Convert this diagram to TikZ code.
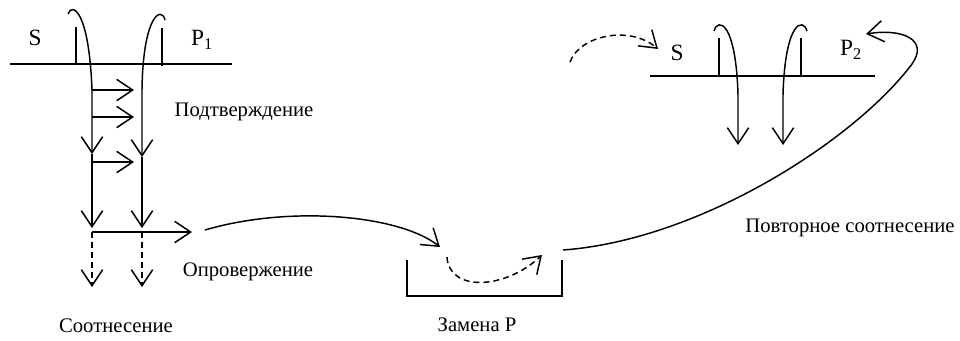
\documentclass[tikz,border=0pt]{standalone}
\usepackage{fontspec}
\setmainfont{Liberation Serif}
\usetikzlibrary{arrows.meta}

\begin{document}
\begin{tikzpicture}[x=0.75pt,y=-0.75pt,line width=1.1pt,
  >={Straight Barb[length=12pt,width=16pt]},
  lbl/.style={font=\fontsize{15.5}{19}\selectfont,inner sep=0pt},
  term/.style={font=\fontsize{17.5}{20}\selectfont,inner sep=0pt},
  dsh/.style={dash pattern=on 4.5pt off 3pt}]
  \useasboundingbox (0,0) rectangle (960,340);
  % left: S -- P1
  \draw (10,64) -- (232,64);
  \draw (76,27) -- (76,64);
  \draw (162,28) -- (162,66);
  \node[term] (s1) at (35,38) {S};
  \node[term] (p1) at (202,40) {P\textsubscript{1}};
  \coordinate (a1) at (92,154);
  \coordinate (a2) at (92,228);
  \coordinate (b1) at (142,157);
  \coordinate (b2) at (142,228);
  \draw[->] (68,14) .. controls (72,2) and (89,10) .. (92,90) -- (a1);
  \draw[->] (165,20) .. controls (162,6) and (143,14) .. (142,90) -- (b1);
  \draw[->] (a1) -- (a2);
  \draw[->] (b1) -- (b2);
  \foreach \y in {90,117,162}
    \draw[->] (92,\y) -- ++(42,0);
  \coordinate (c0) at (92,232);
  \coordinate (c1) at (192,232);
  \draw[->] (c0) -- (c1);
  \foreach \x in {92,142}
    \draw[->,dsh] (\x,232) -- (\x,287);
  \node[lbl] (podtv) at (244,112) {Подтверждение};
  \node[lbl] (oprov) at (248,272) {Опровержение};
  \node[lbl] (sootn) at (116,326) {Соотнесение};
  % middle: replacing P
  \coordinate (m0) at (205,230);
  \coordinate (m1) at (440,247);
  \draw[->] (m0) .. controls (290,205) and (400,215) .. (m1);
  \draw (407,260) |- (562,296) -- (562,260);
  \draw[->,dsh] (447,257) .. controls (449,292) and (505,290) .. (542,255);
  \node[lbl] (zam) at (477,325) {Замена Р};
  % right: S -- P2
  \draw (650,76) -- (875,76);
  \draw (719,38) -- (719,76);
  \draw (801,38) -- (801,76);
  \node[term] (s2) at (677,53) {S};
  \node[term] (p2) at (851,50) {P\textsubscript{2}};
  \draw[->] (714,31) .. controls (718,17) and (736,22) .. (738,95) -- (738,145);
  \draw[->] (807,31) .. controls (803,17) and (785,22) .. (783,95) -- (783,145);
  \draw[->,dsh] (570,62) .. controls (580,35) and (630,25) .. (658,49);
  \coordinate (r0) at (563,250);
  \coordinate (r1) at (866,34);
  \draw[->] (r0) .. controls (700,240) and (855,140) .. (912,64)
    .. controls (929,40) and (903,28) .. (r1);
  \node[lbl] (povt) at (850,228) {Повторное соотнесение};
\end{tikzpicture}
\end{document}
